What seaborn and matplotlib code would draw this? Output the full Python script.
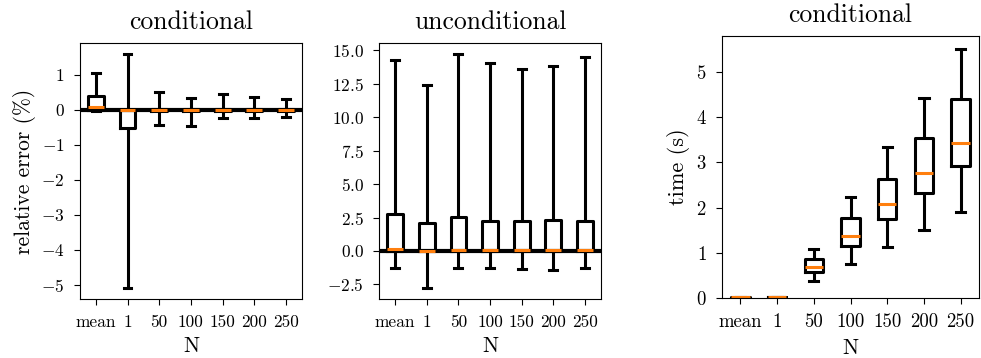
"""
Relative error and run time of the estimators, as box plots over N.
"""

import numpy as np
import pandas as pd
import matplotlib
matplotlib.use("Agg")
import matplotlib.pyplot as plt
from matplotlib.ticker import MultipleLocator
import seaborn as sns


# ──────────────────────────────────────────────────────────────────────────────
# Data (five-number summaries)
# ──────────────────────────────────────────────────────────────────────────────

N_LABELS = ["mean", "1", "50", "100", "150", "200", "250"]

# relative error (%), conditional
cond_err_lo  = [-0.02, -5.08, -0.42, -0.45, -0.24, -0.23, -0.20]
cond_err_q1  = [0.00, -0.53, -0.02, -0.02, -0.02, -0.02, -0.02]
cond_err_med = [0.08, 0.00, 0.00, 0.00, 0.00, 0.00, 0.00]
cond_err_q3  = [0.39, 0.00, 0.02, 0.02, 0.02, 0.02, 0.02]
cond_err_hi  = [1.05, 1.59, 0.50, 0.33, 0.45, 0.36, 0.30]

# relative error (%), unconditional
unc_err_lo  = [-1.25, -2.74, -1.30, -1.25, -1.35, -1.40, -1.27]
unc_err_q1  = [0.00, -0.02, 0.00, 0.00, 0.00, 0.00, 0.00]
unc_err_med = [0.12, 0.00, 0.06, 0.06, 0.05, 0.04, 0.05]
unc_err_q3  = [2.79, 2.09, 2.52, 2.22, 2.27, 2.32, 2.27]
unc_err_hi  = [14.30, 12.38, 14.70, 14.05, 13.58, 13.80, 14.50]

# time (s), conditional
time_lo  = [0.004, 0.006, 0.37, 0.74, 1.12, 1.50, 1.90]
time_q1  = [0.006, 0.010, 0.58, 1.15, 1.74, 2.32, 2.92]
time_med = [0.008, 0.012, 0.69, 1.37, 2.07, 2.77, 3.44]
time_q3  = [0.010, 0.016, 0.87, 1.76, 2.64, 3.55, 4.40]
time_hi  = [0.016, 0.024, 1.09, 2.23, 3.33, 4.42, 5.52]


def to_long(lo, q1, med, q3, hi):
    """Five points per group: with whis=(0, 100) they give exactly these boxes."""
    rows = []
    for i, lab in enumerate(N_LABELS):
        for v in (lo[i], q1[i], med[i], q3[i], hi[i]):
            rows.append({"N": lab, "value": v})
    return pd.DataFrame(rows)


# ──────────────────────────────────────────────────────────────────────────────
# Plotting
# ──────────────────────────────────────────────────────────────────────────────

plt.rcParams["font.family"] = ["cmr10", "DejaVu Serif"]
plt.rcParams["axes.formatter.use_mathtext"] = True
plt.rcParams["mathtext.fontset"] = "cm"
plt.rcParams["axes.unicode_minus"] = True


def draw_box(ax, df, tick_size):
    sns.boxplot(
        data=df, x="N", y="value", order=N_LABELS, ax=ax,
        whis=(0, 100), showfliers=False, fill=False, width=0.5,
        color="black", linecolor="black", linewidth=2.2,
        medianprops={"color": "#ff7f0e", "linewidth": 2.2},
    )
    ax.set_xlabel("N", fontsize=15.5, labelpad=5)
    ax.set_ylabel("")
    ax.tick_params(labelsize=tick_size, pad=7, length=4)


fig = plt.figure(figsize=(9.81, 3.58), dpi=100)
ax1 = fig.add_axes([0.0815, 0.164, 0.2263, 0.717])
ax2 = fig.add_axes([0.3867, 0.164, 0.2257, 0.717])
ax3 = fig.add_axes([0.736, 0.168, 0.262, 0.731])

for ax in (ax1, ax2):
    ax.axhline(0, color="black", lw=3, zorder=1)

draw_box(ax1, to_long(cond_err_lo, cond_err_q1, cond_err_med, cond_err_q3, cond_err_hi), 12.5)
ax1.yaxis.set_major_locator(MultipleLocator(1))
ax1.set_title("conditional", fontsize=18.5, pad=10)
ax1.set_ylabel("relative error (%)", fontsize=15.5)

draw_box(ax2, to_long(unc_err_lo, unc_err_q1, unc_err_med, unc_err_q3, unc_err_hi), 12.5)
ax2.yaxis.set_major_locator(MultipleLocator(2.5))
ax2.set_title("unconditional", fontsize=18.5, pad=10)

draw_box(ax3, to_long(time_lo, time_q1, time_med, time_q3, time_hi), 13.5)
ax3.set_ylim(bottom=0)
ax3.set_title("conditional", fontsize=18.5, pad=10)
ax3.set_ylabel("time (s)", fontsize=16)

fig.savefig("out.png", dpi=100)
plt.close(fig)
